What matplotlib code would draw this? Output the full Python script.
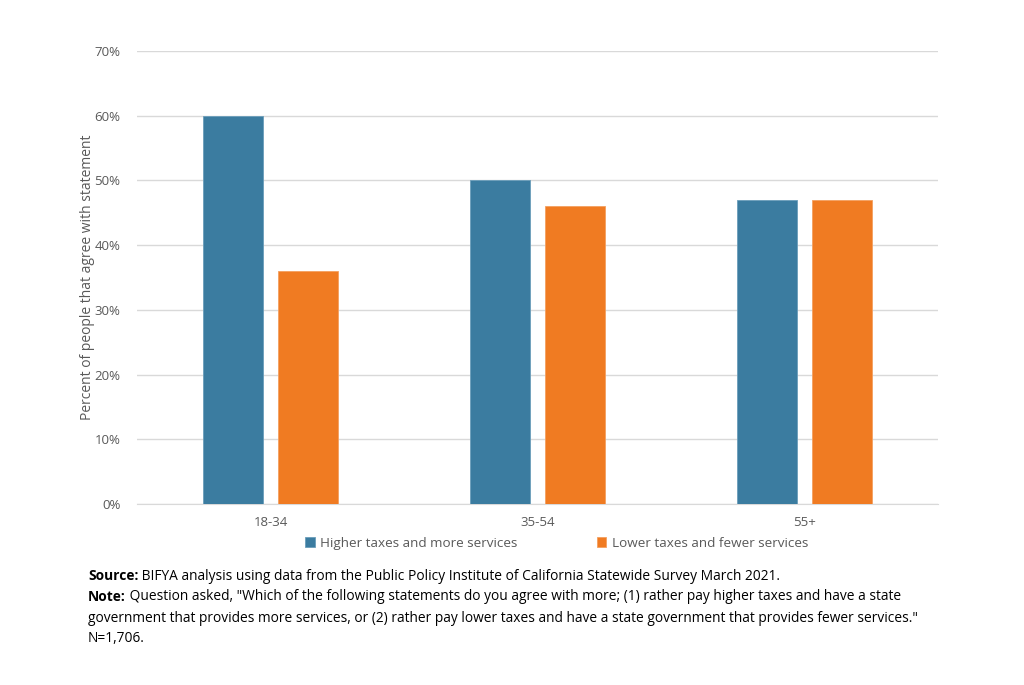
import numpy as np
import matplotlib.pyplot as plt
from matplotlib.ticker import PercentFormatter

plt.rcParams['font.family'] = ['Open Sans', 'DejaVu Sans']

ages = ['18-34', '35-54', '55+']
higher = [60, 50, 47]
lower = [36, 46, 47]
series_names = ['Higher taxes and more services', 'Lower taxes and fewer services']

blue = '#3B7CA0'
orange = '#F07B22'

fig = plt.figure(figsize=(10.24, 6.85), dpi=100)
ax = fig.add_axes([137/1024, 1 - 504/685, (938-137)/1024, (504-51)/685])

x = np.arange(len(ages))
w = 0.225
b1 = ax.bar(x - 0.14, higher, w, color=blue, edgecolor='#6a9dba', linewidth=0.6, label=series_names[0], zorder=3)
b2 = ax.bar(x + 0.14, lower, w, color=orange, edgecolor='#f4a060', linewidth=0.6, label=series_names[1], zorder=3)

ax.set_xlim(-0.5, 2.5)
ax.set_ylim(0, 70)
ax.set_yticks(range(0, 71, 10))
ax.yaxis.set_major_formatter(PercentFormatter(decimals=0))
ax.grid(axis='y', color='#d9d9d9', linewidth=1, zorder=0)
ax.set_xticks(x)
ax.set_xticklabels(ages)
for s in ['top', 'right', 'left']:
    ax.spines[s].set_visible(False)
ax.spines['bottom'].set_color('#d9d9d9')
ax.tick_params(axis='both', length=0, labelsize=9.5, colors='#595959', pad=12)
ax.tick_params(axis='x', pad=9)
ax.set_ylabel('Percent of people that agree with statement', fontsize=10, color='#595959')
ax.yaxis.set_label_coords(-0.053, 0.5)

ax.legend(handles=[b1, b2], loc='upper center', bbox_to_anchor=(0.524, -0.045), ncol=2, frameon=False,
          fontsize=9.7, labelcolor='#595959', handlelength=0.7, handleheight=0.7, handletextpad=0.4,
          columnspacing=5.9)

notes = [
    ('Source:', ' BIFYA analysis using data from the Public Policy Institute of California Statewide Survey March 2021.', 576),
    ('Note:', ' Question asked, "Which of the following statements do you agree with more; (1) rather pay higher taxes and have a state', 597),
    ('', 'government that provides more services, or (2) rather pay lower taxes and have a state government that provides fewer services."', 618),
    ('', 'N=1,706.', 638),
]
fs = 9.9
renderer = fig.canvas.get_renderer()
for bold, rest, yp in notes:
    x0 = 88 / 1024
    if bold:
        t = fig.text(x0, 1 - yp/685, bold, fontsize=fs, weight='bold', va='center', ha='left')
        bb = t.get_window_extent(renderer)
        x0 = bb.x1 / fig.bbox.width
    fig.text(x0, 1 - yp/685, rest, fontsize=fs, color='black', va='center', ha='left')

fig.savefig('out.png', dpi=100)
